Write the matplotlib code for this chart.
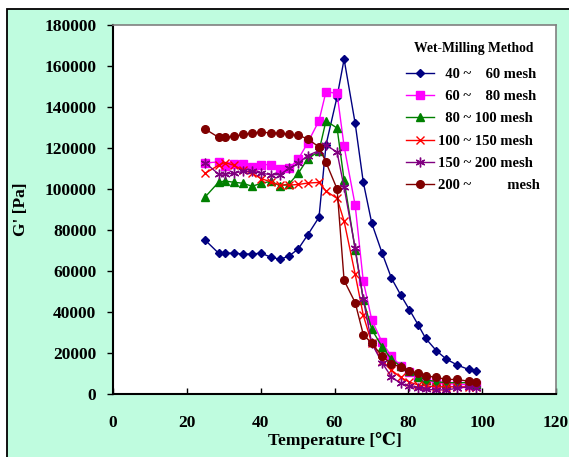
import matplotlib
matplotlib.use("Agg")
import matplotlib.pyplot as plt
from matplotlib.patches import Rectangle

plt.rcParams['font.family'] = ['Liberation Serif', 'DejaVu Serif', 'DejaVu Sans', 'Noto Sans CJK SC']

# Temperature (°C)
temperature = [25.0, 28.6, 30.3, 32.7, 35.2, 37.7, 40.1, 42.7, 45.2, 47.7,
               50.2, 52.7, 55.8, 57.7, 60.7, 62.6, 65.6, 67.8, 70.1, 72.9,
               75.4, 77.9, 80.3, 82.7, 84.7, 87.6, 90.3, 93.3, 96.3, 98.3]

# G' values in thousands of Pa
g_40_60 = [75.0, 68.7, 68.7, 68.7, 68.3, 68.3, 68.7, 66.8, 65.7, 67.3,
           70.8, 77.5, 86.2, 121.5, 145.0, 163.3, 132.0, 103.3, 83.3, 68.7,
           56.6, 48.4, 41.1, 33.6, 27.1, 21.1, 17.0, 14.1, 12.0, 11.3]
g_60_80 = [112.7, 113.2, 111.0, 112.3, 112.3, 110.6, 111.9, 111.9, 109.6, 110.1,
           114.6, 122.4, 133.3, 147.5, 146.6, 120.8, 92.1, 55.0, 36.2, 25.2,
           18.4, 13.8, 10.9, 8.4, 6.8, 5.5, 5.0, 4.8, 4.5, 4.5]
g_80_100 = [96.2, 103.3, 103.9, 103.3, 102.8, 101.3, 102.8, 103.7, 101.6, 102.5,
            107.7, 114.6, 118.5, 133.3, 129.7, 104.4, 70.4, 46.0, 31.5, 23.0,
            17.0, 13.5, 11.0, 8.5, 7.0, 6.0, 5.5, 5.5, 5.5, 5.0]
g_100_150 = [107.7, 111.6, 112.9, 111.6, 109.2, 107.6, 105.1, 103.5, 101.9, 101.9,
             102.2, 102.9, 103.2, 99.0, 95.4, 84.3, 58.4, 38.4, 24.7, 16.2,
             11.7, 8.1, 5.8, 4.4, 3.9, 3.5, 3.5, 3.5, 3.5, 3.5]
g_150_200 = [112.7, 107.3, 107.3, 107.7, 108.6, 108.6, 107.7, 107.0, 107.0, 110.1,
             112.5, 116.3, 118.7, 121.5, 117.9, 100.8, 71.2, 46.2, 24.7, 15.2,
             8.4, 5.2, 3.9, 2.8, 2.3, 2.0, 2.0, 2.8, 3.5, 3.0]
g_200 = [129.2, 125.2, 125.2, 125.7, 126.6, 127.3, 127.8, 127.3, 127.3, 126.6,
         126.2, 124.5, 120.5, 113.0, 100.0, 55.4, 44.6, 29.0, 24.7, 18.5,
         14.6, 13.3, 11.3, 10.1, 8.9, 8.1, 7.1, 7.1, 6.2, 5.8]

labels = ["  40 ~    60 mesh", "  60 ~    80 mesh", "  80 ~ 100 mesh",
          "100 ~ 150 mesh", "150 ~ 200 mesh", "200 ~          mesh"]
series = [g_40_60, g_60_80, g_80_100, g_100_150, g_150_200, g_200]
colors = ["#000080", "#FF00FF", "#008000", "#FF0000", "#800080", "#800000"]
markers = ["D", "s", "^", "x", (6, 2, 0), "o"]
msizes = [4.5, 6, 5.5, 6, 7, 5.5]

x_ticks = [0, 20, 40, 60, 80, 100, 120]
y_ticks = [0, 20000, 40000, 60000, 80000, 100000, 120000, 140000, 160000, 180000]

W, H = 569, 457
fig = plt.figure(figsize=(W / 100, H / 100), dpi=100)
fig.patch.set_facecolor("white")
bg = Rectangle((6.5 / W, -0.1), 1.2, 1 - 8.5 / H + 0.1, transform=fig.transFigure,
               facecolor="#BFFCDF", edgecolor="black", linewidth=1.3, zorder=-5)
fig.add_artist(bg)

ax = fig.add_axes([113 / W, 1 - 394 / H, (556 - 113) / W, (394 - 25) / H])
ax.set_zorder(5)
ax.set_facecolor("white")

for vals, lab, c, m, ms in zip(series, labels, colors, markers, msizes):
    yv = [v * 1000 for v in vals]
    ax.plot(temperature, yv, color=c, marker=m, markersize=ms, linewidth=1.0,
            markeredgecolor=c, markerfacecolor=c, markeredgewidth=1.0, label=lab)

ax.set_xlim(0, 120)
ax.set_ylim(0, 180000)
ax.set_xticks(x_ticks)
ax.set_yticks(y_ticks)
ax.tick_params(axis='x', direction='in', length=4, width=1, pad=15, labelsize=12.5)
ax.tick_params(axis='y', direction='out', length=4, width=1, pad=8, labelsize=12.5)
for lbl in ax.get_xticklabels() + ax.get_yticklabels():
    lbl.set_fontweight('bold')

for s in ['left', 'bottom']:
    ax.spines[s].set_color('black')
    ax.spines[s].set_linewidth(1.5)
for s in ['top', 'right']:
    ax.spines[s].set_color('#808080')
    ax.spines[s].set_linewidth(1.2)

ax.set_xlabel("Temperature [℃]", fontsize=12.5, fontweight='bold', labelpad=1)
ax.set_ylabel("G' [Pa]", fontsize=12.5, fontweight='bold', labelpad=11)

leg = ax.legend(loc='upper left', bbox_to_anchor=(399 / W, 1 - 35 / H),
                bbox_transform=fig.transFigure, frameon=False,
                title="Wet-Milling Method",
                prop={'size': 10.5, 'weight': 'bold'},
                title_fontproperties={'size': 9.8, 'weight': 'bold'},
                handlelength=1.9, handletextpad=0.3, labelspacing=0.62,
                numpoints=1, borderpad=0)
leg._legend_box.sep = 9

fig.savefig("out.png", dpi=100, facecolor=fig.get_facecolor())
